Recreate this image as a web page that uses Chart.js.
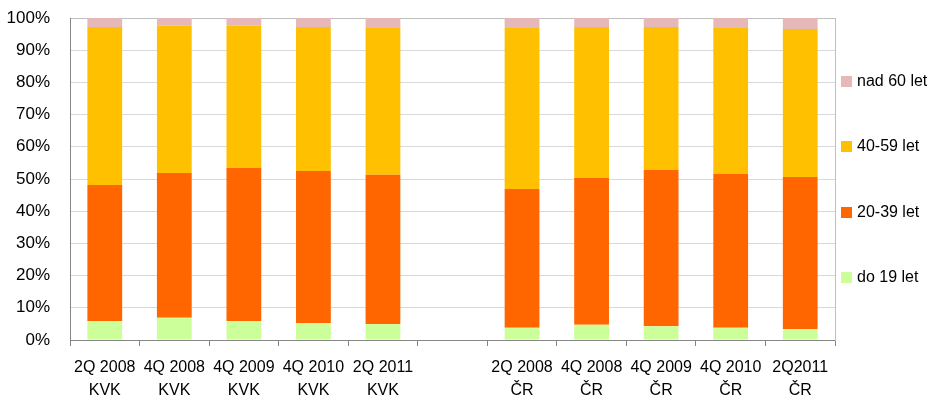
<!DOCTYPE html>
<html>
<head>
<meta charset="utf-8">
<script src="https://cdn.jsdelivr.net/npm/chart.js@4/dist/chart.umd.min.js"></script>
<style>
  html, body { margin: 0; padding: 0; background: #fff; }
  #wrap { position: relative; width: 939px; height: 416px; }
  #legend { position: absolute; left: 841px; top: 0; font-family: "Liberation Sans", Arial, sans-serif; font-size: 16px; color: #000; }
  .item { position: absolute; left: 0; white-space: nowrap; display: flex; align-items: center; height: 20px; }
  .box { width: 11px; height: 11px; margin-right: 5px; }
</style>
</head>
<body>
<div id="wrap">
  <canvas id="chart" width="939" height="416"></canvas>
  <div id="legend"></div>
</div>
<script>
// categories (empty slot in the middle separates KVK and ČR)
const periods = ["2Q 2008", "4Q 2008", "4Q 2009", "4Q 2010", "2Q 2011", "", "2Q 2008", "4Q 2008", "4Q 2009", "4Q 2010", "2Q2011"];
const regions = ["KVK", "KVK", "KVK", "KVK", "KVK", "", "ČR", "ČR", "ČR", "ČR", "ČR"];

// shares in %
const do19 =   [5.9, 6.9, 5.9, 5.3, 5.0, null, 3.8, 4.7, 4.3, 3.8, 3.4];
const let2039 = [42.2, 45.0, 47.5, 47.2, 46.3, null, 43.1, 45.6, 48.5, 47.8, 47.2];
const let4059 = [49.1, 45.7, 44.2, 44.7, 45.6, null, 50.0, 46.9, 44.4, 45.3, 46.0];
const nad60 =  [2.8, 2.4, 2.4, 2.8, 3.1, null, 3.1, 2.8, 2.8, 3.1, 3.4];

const yTicks = [0, 10, 20, 30, 40, 50, 60, 70, 80, 90, 100];

const font = { family: "Liberation Sans, Arial, sans-serif", size: 16 };

const datasets = [
    { label: "do 19 let", data: do19, backgroundColor: "#CCFF99" },
    { label: "20-39 let", data: let2039, backgroundColor: "#FF6600" },
    { label: "40-59 let", data: let4059, backgroundColor: "#FFC000" },
    { label: "nad 60 let", data: nad60, backgroundColor: "#E6B9B8" },
];

const ctx = document.getElementById("chart").getContext("2d");
new Chart(ctx, {
    type: "bar",
    data: {
        labels: periods.map((p, i) => [p, regions[i]]),
        datasets: datasets.map(d => ({ ...d, borderWidth: 0, categoryPercentage: 1, barPercentage: 0.5 })),
    },
    options: {
        responsive: false,
        animation: false,
        layout: { padding: { left: 0, right: 104, top: 18, bottom: 0 } },
        plugins: { legend: { display: false }, tooltip: { enabled: false } },
        scales: {
            x: {
                stacked: true,
                grid: { offset: true, drawOnChartArea: false, tickLength: 6, color: "#868686" },
                border: { color: "#868686" },
                ticks: { color: "#000", font: { ...font, lineHeight: 1.45 }, padding: 10, maxRotation: 0, autoSkip: false },
                afterFit: (s) => { s.height = 76; },
            },
            y: {
                stacked: true,
                min: 0,
                max: 100,
                afterBuildTicks: (s) => { s.ticks = yTicks.map(v => ({ value: v })); },
                grid: { drawTicks: false, color: (c) => c.tick && c.tick.value === 100 ? "#BFBFBF" : "#D9D9D9" },
                border: { color: "#868686" },
                ticks: { color: "#000", font: { ...font, size: 17 }, padding: 20, callback: (v) => v + "%" },
                // tick padding also pads top/bottom; keep only the half label height there
                afterFit: (s) => { s.width = 70; s.paddingTop = 10; s.paddingBottom = 10; },
            },
            y2: {
                position: "right",
                min: 0,
                max: 100,
                grid: { drawOnChartArea: false, drawTicks: false },
                border: { color: "#BFBFBF" },
                ticks: { display: false },
                afterFit: (s) => { s.width = 0; },
            },
        },
    },
});

// legend, reversed order like the original
const legendEl = document.getElementById("legend");
const legendY = [71, 136, 202, 267];
datasets.slice().reverse().forEach((d, i) => {
    const item = document.createElement("div");
    item.className = "item";
    item.style.top = legendY[i] + "px";
    item.innerHTML = `<span class="box" style="background:${d.backgroundColor}"></span><span>${d.label}</span>`;
    legendEl.appendChild(item);
});
</script>
</body>
</html>
